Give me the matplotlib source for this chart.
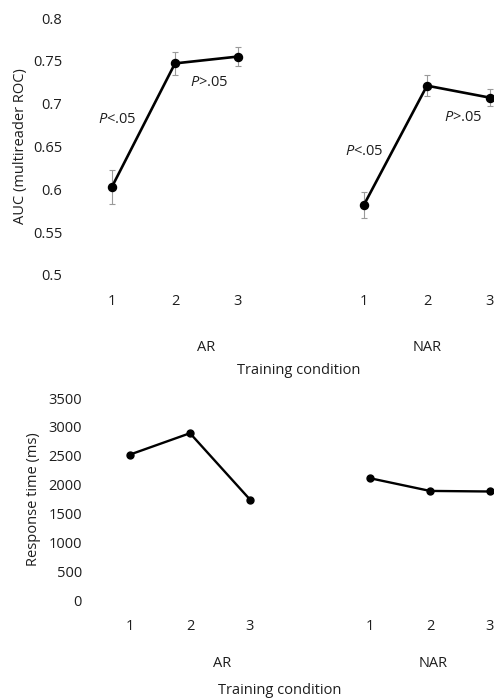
import numpy as np
import matplotlib.pyplot as plt

plt.rcParams['font.family'] = ['Open Sans', 'DejaVu Sans']
plt.rcParams['mathtext.fontset'] = 'custom'
plt.rcParams['mathtext.rm'] = 'Open Sans'
plt.rcParams['mathtext.it'] = 'Open Sans:italic'

# data
conditions = ['1', '2', '3']
groups = ['AR', 'NAR']
auc_ar = [0.603, 0.747, 0.755]
auc_ar_err = [0.020, 0.013, 0.011]
auc_nar = [0.582, 0.721, 0.707]
auc_nar_err = [0.015, 0.012, 0.010]
rt_ar = [2520, 2890, 1740]
rt_nar = [2110, 1890, 1880]
auc_ticks = [0.5, 0.55, 0.6, 0.65, 0.7, 0.75, 0.8]
rt_ticks = [0, 500, 1000, 1500, 2000, 2500, 3000, 3500]

pos_ar = np.array([1, 2, 3])
pos_nar = np.array([5, 6, 7])

W, H = 494, 698
FS = 10.5
TXT = '#1e1e1e'
fig = plt.figure(figsize=(W / 100, H / 100), dpi=100)


def px_axes(left, right, top, bottom):
    return fig.add_axes([left / W, 1 - bottom / H, (right - left) / W, (bottom - top) / H])


def style(ax):
    for s in ax.spines.values():
        s.set_visible(False)
    ax.tick_params(length=0, labelsize=FS, colors=TXT)
    ax.set_xlim(0.5, 7.5)
    ax.set_xticks(list(pos_ar) + list(pos_nar))
    ax.set_xticklabels(conditions + conditions)


err_kw = dict(fmt='none', ecolor='#9a9a9a', elinewidth=0.8, capsize=2.5, capthick=0.8, zorder=2)

# top panel: AUC
ax1 = px_axes(80.5, 521.5, 18, 275)
style(ax1)
top_line = dict(color='black', lw=1.9, marker='o', ms=5.8, zorder=3)
ax1.errorbar(pos_ar, auc_ar, yerr=auc_ar_err, **err_kw)
ax1.errorbar(pos_nar, auc_nar, yerr=auc_nar_err, **err_kw)
ax1.plot(pos_ar, auc_ar, **top_line)
ax1.plot(pos_nar, auc_nar, **top_line)
ax1.set_ylim(0.5, 0.8)
ax1.set_yticks(auc_ticks)
ax1.set_yticklabels(['0.5', '0.55', '0.6', '0.65', '0.7', '0.75', '0.8'])
ax1.tick_params(axis='x', pad=14)
ax1.tick_params(axis='y', pad=13)
ax1.set_ylabel('AUC (multireader ROC)', fontsize=FS, color=TXT, labelpad=4)

ann_kw = dict(fontsize=FS, ha='center', va='center', color=TXT)
ax1.text(1.08, 0.681, '$\\it{P}$<.05', **ann_kw)
ax1.text(2.55, 0.725, '$\\it{P}$>.05', **ann_kw)
ax1.text(5.0, 0.644, '$\\it{P}$<.05', **ann_kw)
ax1.text(6.57, 0.684, '$\\it{P}$>.05', **ann_kw)

tr = ax1.get_xaxis_transform()
ax1.annotate(groups[0], xy=(2.5, 0), xycoords=tr, xytext=(0, -52), textcoords='offset points',
             ha='center', va='center', fontsize=FS, color=TXT)
ax1.annotate(groups[1], xy=(6, 0), xycoords=tr, xytext=(0, -52), textcoords='offset points',
             ha='center', va='center', fontsize=FS, color=TXT)
ax1.annotate('Training condition', xy=(3.97, 0), xycoords=tr, xytext=(0, -69),
             textcoords='offset points', ha='center', va='center', fontsize=FS, color=TXT)

# bottom panel: response time
ax2 = px_axes(100, 520, 398, 600)
style(ax2)
bot_line = dict(color='black', lw=1.7, marker='o', ms=5, zorder=3)
ax2.plot(pos_ar, rt_ar, **bot_line)
ax2.plot(pos_nar, rt_nar, **bot_line)
ax2.set_ylim(0, 3500)
ax2.set_yticks(rt_ticks)
ax2.tick_params(axis='x', pad=14)
ax2.tick_params(axis='y', pad=13)
ax2.set_ylabel('Response time (ms)', fontsize=FS, color=TXT, labelpad=5)

tr2 = ax2.get_xaxis_transform()
ax2.annotate(groups[0], xy=(2.53, 0), xycoords=tr2, xytext=(0, -46), textcoords='offset points',
             ha='center', va='center', fontsize=FS, color=TXT)
ax2.annotate(groups[1], xy=(6.05, 0), xycoords=tr2, xytext=(0, -46), textcoords='offset points',
             ha='center', va='center', fontsize=FS, color=TXT)
ax2.annotate('Training condition', xy=(3.5, 0), xycoords=tr2, xytext=(0, -65),
             textcoords='offset points', ha='center', va='center', fontsize=FS, color=TXT)

fig.savefig('out.png', dpi=100, facecolor='white')
